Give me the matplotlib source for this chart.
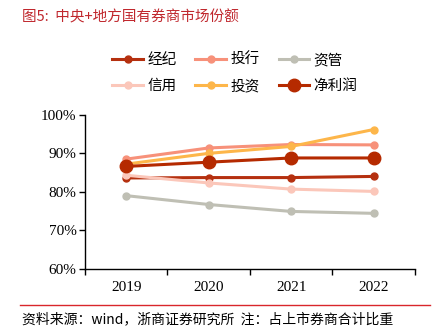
import numpy as np
import matplotlib.pyplot as plt
from matplotlib.lines import Line2D

plt.rcParams['font.family'] = ['Noto Sans CJK SC', 'DejaVu Sans']

years = ["2019", "2020", "2021", "2022"]
jingji = [83.6, 83.7, 83.7, 84.0]
touhang = [88.5, 91.4, 92.3, 92.2]
ziguan = [79.0, 76.7, 74.9, 74.4]
xinyong = [84.3, 82.3, 80.7, 80.1]
touzi = [87.2, 90.0, 91.8, 96.2]
jinglirun = [86.6, 87.7, 88.8, 88.8]

series = [
    ("经纪", jingji, "#B5300F", 5, 2.2),
    ("投行", touhang, "#F7917A", 5, 2.2),
    ("资管", ziguan, "#BFBFB4", 5, 2.2),
    ("信用", xinyong, "#FBC7BA", 5, 2.2),
    ("投资", touzi, "#FDB64A", 5, 2.2),
    ("净利润", jinglirun, "#B52A00", 9, 2.2),
]

fig = plt.figure(figsize=(4.4, 3.33), dpi=100)
ax = fig.add_axes([0.193, 0.193, 0.75, 0.462])

x = np.arange(len(years))
handles = []
for name, vals, col, ms, lw in series:
    ln, = ax.plot(x, vals, color=col, lw=lw, marker="o", ms=ms, label=name)
    handles.append(ln)

ax.set_xlim(-0.5, 3.5)
ax.set_ylim(60, 100)
ax.set_yticks([60, 70, 80, 90, 100])
ax.set_yticklabels([f"{v}%" for v in [60, 70, 80, 90, 100]],
                   family="Liberation Serif", fontsize=11)
ax.set_xticks([-0.5, 0.5, 1.5, 2.5, 3.5])
ax.set_xticklabels([])
ax.set_xticks(x, minor=True)
ax.set_xticklabels(years, minor=True, family="Liberation Serif", fontsize=11)
ax.tick_params(axis="x", which="major", length=4, width=1, direction="out")
ax.tick_params(axis="x", which="minor", length=0, pad=9)
ax.tick_params(axis="y", length=4, width=1, direction="out", pad=2)
for s in ["top", "right"]:
    ax.spines[s].set_visible(False)
for s in ["left", "bottom"]:
    ax.spines[s].set_linewidth(1)
    ax.spines[s].set_color("black")

# legend fills column-wise, so reorder to get row order of the reference
order = [0, 3, 1, 4, 2, 5]
fig.legend(handles=[handles[i] for i in order], loc="upper left",
           bbox_to_anchor=(0.255, 0.84), ncol=3, frameon=False,
           fontsize=10.5, handlelength=2.1, columnspacing=1.3,
           handletextpad=0.3, labelspacing=0.8, borderaxespad=0,
           borderpad=0)

fig.text(0.05, 0.948, "图5:  中央+地方国有券商市场份额", color="#C0272D",
         fontsize=10.5, va="center")
fig.add_artist(Line2D([0.045, 0.978], [0.085, 0.085], color="#D9262B", lw=1,
                      transform=fig.transFigure))
fig.text(0.05, 0.04, "资料来源：wind，浙商证券研究所  注：占上市券商合计比重",
         fontsize=10, va="center")

fig.savefig("out.png", dpi=100)
